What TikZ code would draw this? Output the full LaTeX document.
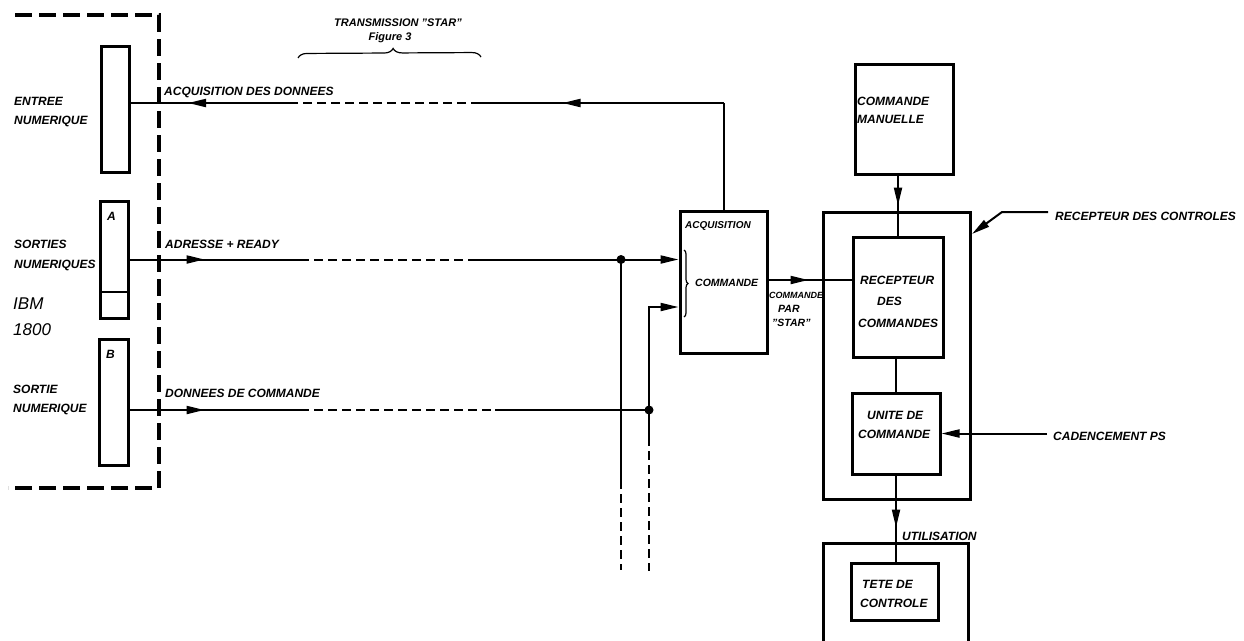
\documentclass[tikz,border=0pt]{standalone}
\usepackage{fontspec}
\setmainfont{Liberation Sans}
\usetikzlibrary{arrows.meta,decorations.markings,decorations.pathreplacing}
\begin{document}
\begin{tikzpicture}[x=1pt,y=-1pt,
  >={Triangle[length=18pt,width=8pt]},
  blk/.style={draw,line width=3pt,inner sep=0pt},
  wire/.style={line width=2pt},
  dsh/.style={dash pattern=on 9pt off 5pt},
  lab/.style={font=\bfseries\itshape\fontsize{12}{14}\selectfont,inner sep=0pt,anchor=base west},
  labs/.style={font=\bfseries\itshape\fontsize{10.5}{12}\selectfont,inner sep=0pt,anchor=base west},
  marr/.style={postaction={decorate,decoration={markings,mark=at position #1 with {\arrow{>}}}}}]
\useasboundingbox (0,0) rectangle (1244,640);
\clip (0,0) rectangle (1244,640);
\fill[white] (0,0) rectangle (1244,640);

% left dashed frame (IBM 1800)
\draw[line width=3.2pt,dash pattern=on 17pt off 7pt] (15,15) -- (159,15) -- (159,488) -- (8,488);

% blocks
\node[blk,minimum width=28pt,minimum height=126pt] (entree) at (115,109) {};
\node[blk,minimum width=28pt,minimum height=117pt] (boxA) at (114,259.5) {};
\draw[line width=2.6pt] (100,292) -- (128,292);
\node[blk,minimum width=29pt,minimum height=126pt] (boxB) at (113.5,402) {};
\node[blk,minimum width=87pt,minimum height=142pt] (acq) at (723.5,282) {};
\node[blk,minimum width=147pt,minimum height=287pt] (outer) at (896.5,355.5) {};
\node[blk,minimum width=90pt,minimum height=120pt] (recep) at (898,297) {};
\node[blk,minimum width=88pt,minimum height=81pt] (unite) at (896,433.5) {};
\node[blk,minimum width=98pt,minimum height=110pt] (manu) at (904,119) {};
\node[blk,minimum width=145pt,minimum height=200pt] (teteout) at (895.5,643) {};
\node[blk,minimum width=87pt,minimum height=57pt] (tete) at (894.5,591.5) {};

% labels left
\node[lab] (t1) at (14,105) {ENTREE};
\node[lab] (t2) at (14,124) {NUMERIQUE};
\node[lab] (t3) at (14,248) {SORTIES};
\node[lab] (t4) at (14,268) {NUMERIQUES};
\node[font=\itshape\fontsize{17}{20}\selectfont,inner sep=0pt,anchor=base west] (ibm) at (13,309) {IBM};
\node[font=\itshape\fontsize{17}{20}\selectfont,inner sep=0pt,anchor=base west] (ibmn) at (13,335) {1800};
\node[lab] (t5) at (13,393) {SORTIE};
\node[lab] (t6) at (13,412) {NUMERIQUE};
\node[lab] (lA) at (107,220) {A};
\node[lab] (lB) at (106,358) {B};

% line labels
\node[lab] (l1) at (164,95) {ACQUISITION DES DONNEES};
\node[lab] (l2) at (165,248) {ADRESSE + READY};
\node[lab] (l3) at (165,397) {DONNEES DE COMMANDE};

% transmission star
\node[font=\bfseries\itshape\fontsize{11}{13}\selectfont,inner sep=0pt,anchor=base] (tr) at (398,26) {TRANSMISSION "STAR"};
\node[font=\bfseries\itshape\fontsize{11}{13}\selectfont,inner sep=0pt,anchor=base] (fig) at (390,40) {Figure 3};
\draw[line width=1.2pt,decorate,decoration={brace,amplitude=9pt,aspect=0.52}] (298,58) -- (481,57);

% acquisition line
\coordinate (q0) at (723.5,103);
\coordinate (q1) at (480,103);
\coordinate (q2) at (293,103);
\coordinate (qe) at (entree.east |- q0);
\draw[wire] (acq.north) -- (q0);
\draw[wire,marr=161pt] (q0) -- (q1);
\draw[wire,dsh] (q1) -- (q2);
\draw[wire,marr=105pt] (q2) -- (qe);

% adresse + ready
\coordinate (a1) at (300,259.5);
\coordinate (a2) at (473,259.5);
\coordinate (d1) at (621,259.5);
\draw[wire,marr=75pt] (boxA.east) -- (a1);
\draw[wire,dsh] (a1) -- (a2);
\draw[wire] (a2) -- (d1);
\draw[wire,->] (d1) -- (acq.west |- d1);
\coordinate (v1) at (621,480);
\coordinate (v1e) at (621,570);
\draw[wire] (d1) -- (v1);
\draw[wire,dsh] (v1) -- (v1e);

% donnees de commande
\coordinate (b1) at (300,410);
\coordinate (b2) at (495,410);
\coordinate (d2) at (649,410);
\draw[wire,marr=75pt] (boxB.east |- d2) -- (b1);
\draw[wire,dsh] (b1) -- (b2);
\draw[wire] (b2) -- (d2);
\coordinate (c2) at (649,307);
\draw[wire,->] (d2) -- (c2) -- (acq.west |- c2);
\coordinate (v2) at (649,437);
\coordinate (v2e) at (649,571);
\draw[wire] (d2) -- (v2);
\draw[wire,dsh] (v2) -- (v2e);
\fill (d1) circle (4.5pt);
\fill (d2) circle (4.5pt);

% inside acquisition
\node[labs,font=\bfseries\itshape\fontsize{10}{12}\selectfont] (acqt) at (685,228) {ACQUISITION};
\node[labs] (acqc) at (695,286) {COMMANDE};
\draw[line width=1.2pt,decorate,decoration={brace,amplitude=4pt}] (684,250) -- (684,317);

% output of acquisition
\coordinate (oy) at (0,280);
\draw[wire,marr=40pt] (acq.east |- oy) -- (recep.west |- oy);
\node[labs,font=\bfseries\itshape\fontsize{9}{11}\selectfont] (cp1) at (769,298) {COMMANDE};
\node[labs] (cp2) at (778,312) {PAR};
\node[labs] (cp3) at (772,326) {"STAR"};

% right side
\node[lab] (m1) at (857,105) {COMMANDE};
\node[lab] (m2) at (857,123) {MANUELLE};
\draw[wire,marr=30pt] (recep.north |- manu.south) -- (recep.north);
\node[lab] (r1t) at (860,284) {RECEPTEUR};
\node[lab] (r2t) at (877,305) {DES};
\node[lab] (r3t) at (858,327) {COMMANDES};
\draw[wire] (unite.north |- recep.south) -- (unite.north);
\node[lab] (u1) at (867,419) {UNITE DE};
\node[lab] (u2) at (858,438) {COMMANDE};
\node[lab] (cad) at (1053,440) {CADENCEMENT PS};
\draw[wire,->] ([xshift=-6pt]cad.west |- unite.east) -- (unite.east);
\draw[wire,marr=52pt] (unite.south) -- (unite.south |- tete.north);
\node[lab] (util) at (902,540) {UTILISATION};
\node[lab] (te1) at (862,588) {TETE DE};
\node[lab] (te2) at (860,607) {CONTROLE};

\node[lab] (rdc) at (1055,220) {RECEPTEUR DES CONTROLES};
\coordinate (rl1) at (1048,212);
\coordinate (rl2) at (1002,212);
\coordinate (rl3) at (972,234);
\draw[wire,->] (rl1) -- (rl2) -- (rl3);
\end{tikzpicture}
\end{document}
